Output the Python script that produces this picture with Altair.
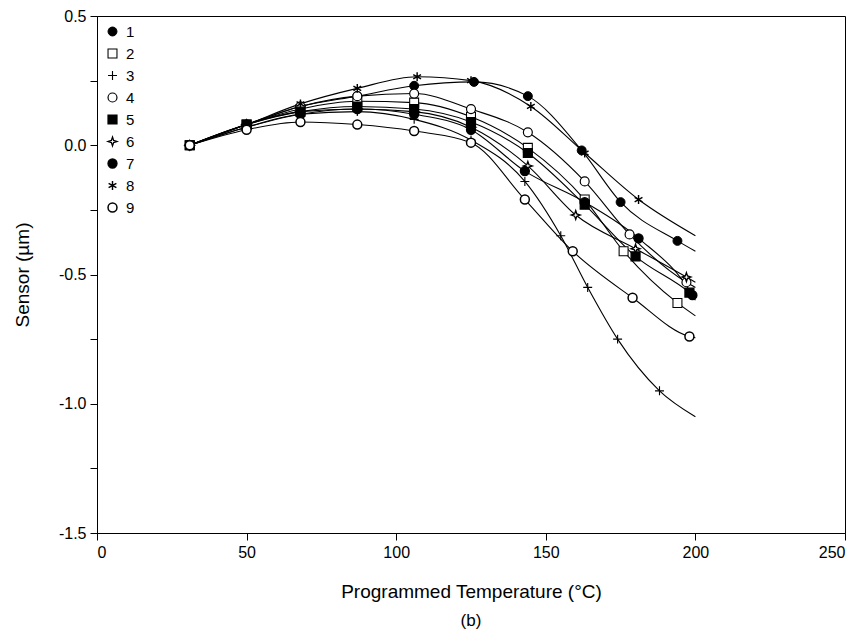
import altair as alt
import pandas as pd

series_names = ["1", "2", "3", "4", "5", "6", "7", "8", "9"]

# marker points of each series (temperature °C, sensor µm)
t1 = [31, 50, 68, 87, 106, 126, 144, 162, 175, 194]
v1 = [0.00, 0.08, 0.15, 0.19, 0.23, 0.245, 0.19, -0.02, -0.22, -0.37]
t2 = [31, 50, 68, 87, 106, 125, 144, 163, 176, 194]
v2 = [0.00, 0.08, 0.14, 0.17, 0.165, 0.11, -0.01, -0.21, -0.41, -0.61]
t3 = [31, 50, 68, 87, 106, 125, 143, 155, 164, 174, 188]
v3 = [0.00, 0.07, 0.12, 0.13, 0.10, 0.02, -0.14, -0.35, -0.55, -0.75, -0.95]
t4 = [31, 50, 68, 87, 106, 125, 144, 163, 178, 197]
v4 = [0.00, 0.08, 0.15, 0.19, 0.20, 0.14, 0.05, -0.14, -0.345, -0.53]
t5 = [31, 50, 68, 87, 106, 125, 144, 163, 180, 198]
v5 = [0.00, 0.08, 0.13, 0.15, 0.14, 0.09, -0.03, -0.23, -0.43, -0.57]
t6 = [31, 50, 68, 87, 106, 125, 144, 160, 180, 197]
v6 = [0.00, 0.08, 0.13, 0.14, 0.13, 0.07, -0.08, -0.27, -0.40, -0.51]
t7 = [31, 50, 68, 87, 106, 125, 143, 163, 181, 199]
v7 = [0.00, 0.07, 0.12, 0.14, 0.12, 0.06, -0.10, -0.22, -0.36, -0.58]
t8 = [31, 50, 68, 87, 107, 125, 145, 163, 181]
v8 = [0.00, 0.08, 0.16, 0.22, 0.265, 0.25, 0.15, -0.03, -0.21]
t9 = [31, 50, 68, 87, 106, 125, 143, 159, 179, 198]
v9 = [0.00, 0.06, 0.09, 0.08, 0.055, 0.01, -0.21, -0.41, -0.59, -0.74]

# where each fitted curve ends (no marker)
end_t = [200, 200, 200, 200, 200, 200, 200, 200, 200]
end_v = [-0.41, -0.66, -1.05, -0.55, -0.59, -0.53, -0.60, -0.35, -0.745]

x_ticks = [0, 50, 100, 150, 200, 250]
y_ticks = [-1.5, -1.25, -1.0, -0.75, -0.5, -0.25, 0.0, 0.25, 0.5]

all_t = [t1, t2, t3, t4, t5, t6, t7, t8, t9]
all_v = [v1, v2, v3, v4, v5, v6, v7, v8, v9]

pts_rows = []
line_rows = []
for i, name in enumerate(series_names):
    for t, v in zip(all_t[i], all_v[i]):
        pts_rows.append({"series": name, "T": t, "V": v})
        line_rows.append({"series": name, "T": t, "V": v})
    line_rows.append({"series": name, "T": end_t[i], "V": end_v[i]})

pts = pd.DataFrame(pts_rows)
lines_df = pd.DataFrame(line_rows)

shapes = [
    "circle",
    "square",
    "M-1,0H1M0,-1V1",
    "circle",
    "square",
    "M0,-1L0.25,-0.25L1,0L0.25,0.25L0,1L-0.25,0.25L-1,0L-0.25,-0.25Z",
    "circle",
    "M0,-1V1M-0.87,-0.5L0.87,0.5M-0.87,0.5L0.87,-0.5",
    "circle",
]
fills = ["black", "white", "black", "white", "black", "white", "black", "black", "white"]
strokes = ["black"] * 9
sizes = [80, 80, 100, 75, 80, 100, 90, 50, 50]
widths = [1, 1.5, 1.5, 2.5, 1, 1, 1, 1.5, 1]

xenc = alt.X("T:Q", scale=alt.Scale(domain=[0, 250], nice=False),
             axis=alt.Axis(values=x_ticks, title="Programmed Temperature (°C)"))
yenc = alt.Y("V:Q", scale=alt.Scale(domain=[-1.5, 0.5], nice=False),
             axis=alt.Axis(values=y_ticks, title="Sensor (µm)",
                           labelExpr="abs(datum.value*2 - round(datum.value*2)) < 0.001 ? replace(format(datum.value, '.1f'), '\u2212', '-') : ''"))

leg = alt.Legend(title=None, orient="none", legendX=8, legendY=8)

line_layer = alt.Chart(lines_df).mark_line(
    color="black", strokeWidth=1.1, interpolate="monotone"
).encode(x=xenc, y=yenc, detail="series:N", order="T:Q")

point_layer = alt.Chart(pts).mark_point(opacity=1, filled=False).encode(
    x=xenc,
    y=yenc,
    shape=alt.Shape("series:N", scale=alt.Scale(domain=series_names, range=shapes), legend=leg),
    fill=alt.Fill("series:N", scale=alt.Scale(domain=series_names, range=fills), legend=leg),
    stroke=alt.Stroke("series:N", scale=alt.Scale(domain=series_names, range=strokes), legend=leg),
    size=alt.Size("series:N", scale=alt.Scale(domain=series_names, range=sizes), legend=leg),
    strokeWidth=alt.StrokeWidth("series:N", scale=alt.Scale(domain=series_names, range=widths), legend=leg),
)

chart = alt.layer(line_layer, point_layer).properties(
    width=748,
    height=517,
    autosize=alt.AutoSizeParams(type="none"),
    padding={"left": 97, "top": 16, "right": 22, "bottom": 106},
    title=alt.TitleParams("(b)", orient="bottom", fontSize=17, font="Liberation Sans",
                          fontWeight="normal", color="black", offset=12),
).configure_view(stroke="black", strokeWidth=1).configure_axis(
    grid=False,
    domainColor="black",
    tickColor="black",
    tickSize=7,
    labelFont="Liberation Sans",
    labelFontSize=16,
    labelColor="black",
    titleFont="Liberation Sans",
    titleFontSize=19,
    titleFontWeight="normal",
    titleColor="black",
).configure_axisX(labelPadding=4, titlePadding=22).configure_axisY(
    labelPadding=4, titlePadding=26
).configure_legend(
    labelFont="Liberation Sans",
    labelFontSize=15,
    labelColor="black",
    rowPadding=6,
    labelOffset=6,
)

chart.save("out.html", embed_options={"renderer": "svg", "actions": False})
